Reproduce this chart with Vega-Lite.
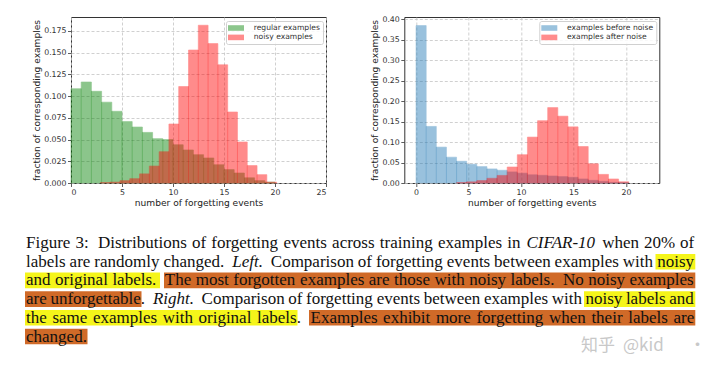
{
  "$schema": "https://vega.github.io/schema/vega-lite/v6.json",
  "background": "white",
  "padding": {"left": 24, "top": 14, "right": 5, "bottom": 5},
  "bounds": "flush",
  "spacing": 78.3,
  "resolve": {"scale": {"color": "independent", "stroke": "independent"}},
  "config": {
    "font": "DejaVu Sans",
    "view": {"stroke": "#333", "strokeWidth": 1},
    "axis": {
      "grid": true, "gridColor": "#c4c4c4", "gridDash": [3, 2], "gridWidth": 0.8,
      "domain": false, "tickColor": "#333", "tickSize": 3.5, "tickWidth": 0.8,
      "labelFont": "DejaVu Sans", "labelFontSize": 7.8, "labelColor": "#333", "labelPadding": 1.5,
      "titleFont": "DejaVu Sans", "titleFontSize": 9.1, "titleFontWeight": "normal", "titleColor": "#222"
    },
    "legend": {
      "orient": "top-right", "offset": 3.5,
      "labelFont": "DejaVu Sans", "labelFontSize": 7.6, "labelColor": "#333",
      "symbolType": "M-2,-0.7H2V0.7H-2Z", "symbolSize": 64, "symbolStrokeWidth": 0, "symbolOffset": 3,
      "fillColor": "rgba(255,255,255,0.85)", "strokeColor": "#d0d0d0", "cornerRadius": 2,
      "padding": 3, "rowPadding": 1.4, "labelOffset": 13.7
    }
  },
  "datasets": {
    "left": [
      {"series": "regular examples", "start": 0, "end": 1, "fraction": 0.1085},
      {"series": "regular examples", "start": 1, "end": 2, "fraction": 0.1162},
      {"series": "regular examples", "start": 2, "end": 3, "fraction": 0.1055},
      {"series": "regular examples", "start": 3, "end": 4, "fraction": 0.093},
      {"series": "regular examples", "start": 4, "end": 5, "fraction": 0.0825},
      {"series": "regular examples", "start": 5, "end": 6, "fraction": 0.0707},
      {"series": "regular examples", "start": 6, "end": 7, "fraction": 0.0644},
      {"series": "regular examples", "start": 7, "end": 8, "fraction": 0.0582},
      {"series": "regular examples", "start": 8, "end": 9, "fraction": 0.051},
      {"series": "regular examples", "start": 9, "end": 10, "fraction": 0.05},
      {"series": "regular examples", "start": 10, "end": 11, "fraction": 0.044},
      {"series": "regular examples", "start": 11, "end": 12, "fraction": 0.038},
      {"series": "regular examples", "start": 12, "end": 13, "fraction": 0.0326},
      {"series": "regular examples", "start": 13, "end": 14, "fraction": 0.0288},
      {"series": "regular examples", "start": 14, "end": 15, "fraction": 0.021},
      {"series": "regular examples", "start": 15, "end": 16, "fraction": 0.0154},
      {"series": "regular examples", "start": 16, "end": 17, "fraction": 0.0115},
      {"series": "regular examples", "start": 17, "end": 18, "fraction": 0.006},
      {"series": "regular examples", "start": 18, "end": 19, "fraction": 0.0027},
      {"series": "regular examples", "start": 19, "end": 20, "fraction": 0.001},
      {"series": "noisy examples", "start": 2.88, "end": 3.84, "fraction": 0.0005},
      {"series": "noisy examples", "start": 3.84, "end": 4.8, "fraction": 0.001},
      {"series": "noisy examples", "start": 4.8, "end": 5.76, "fraction": 0.0027},
      {"series": "noisy examples", "start": 5.76, "end": 6.72, "fraction": 0.005},
      {"series": "noisy examples", "start": 6.72, "end": 7.68, "fraction": 0.0105},
      {"series": "noisy examples", "start": 7.68, "end": 8.64, "fraction": 0.0195},
      {"series": "noisy examples", "start": 8.64, "end": 9.6, "fraction": 0.036},
      {"series": "noisy examples", "start": 9.6, "end": 10.56, "fraction": 0.0679},
      {"series": "noisy examples", "start": 10.56, "end": 11.52, "fraction": 0.111},
      {"series": "noisy examples", "start": 11.52, "end": 12.48, "fraction": 0.153},
      {"series": "noisy examples", "start": 12.48, "end": 13.44, "fraction": 0.1815},
      {"series": "noisy examples", "start": 13.44, "end": 14.4, "fraction": 0.1604},
      {"series": "noisy examples", "start": 14.4, "end": 15.36, "fraction": 0.136},
      {"series": "noisy examples", "start": 15.36, "end": 16.32, "fraction": 0.0817},
      {"series": "noisy examples", "start": 16.32, "end": 17.28, "fraction": 0.0472},
      {"series": "noisy examples", "start": 17.28, "end": 18.24, "fraction": 0.02},
      {"series": "noisy examples", "start": 18.24, "end": 19.2, "fraction": 0.0096},
      {"series": "noisy examples", "start": 19.2, "end": 20.16, "fraction": 0.001}
    ],
    "right": [
      {"series": "examples before noise", "start": 0, "end": 0.965, "fraction": 0.384},
      {"series": "examples before noise", "start": 0.965, "end": 1.93, "fraction": 0.138},
      {"series": "examples before noise", "start": 1.93, "end": 2.895, "fraction": 0.0875},
      {"series": "examples before noise", "start": 2.895, "end": 3.86, "fraction": 0.063},
      {"series": "examples before noise", "start": 3.86, "end": 4.825, "fraction": 0.053},
      {"series": "examples before noise", "start": 4.825, "end": 5.79, "fraction": 0.0457},
      {"series": "examples before noise", "start": 5.79, "end": 6.755, "fraction": 0.04},
      {"series": "examples before noise", "start": 6.755, "end": 7.72, "fraction": 0.0343},
      {"series": "examples before noise", "start": 7.72, "end": 8.685, "fraction": 0.031},
      {"series": "examples before noise", "start": 8.685, "end": 9.65, "fraction": 0.027},
      {"series": "examples before noise", "start": 9.65, "end": 10.615, "fraction": 0.024},
      {"series": "examples before noise", "start": 10.615, "end": 11.58, "fraction": 0.02},
      {"series": "examples before noise", "start": 11.58, "end": 12.545, "fraction": 0.0187},
      {"series": "examples before noise", "start": 12.545, "end": 13.51, "fraction": 0.017},
      {"series": "examples before noise", "start": 13.51, "end": 14.475, "fraction": 0.0155},
      {"series": "examples before noise", "start": 14.475, "end": 15.44, "fraction": 0.0138},
      {"series": "examples before noise", "start": 15.44, "end": 16.405, "fraction": 0.0098},
      {"series": "examples before noise", "start": 16.405, "end": 17.37, "fraction": 0.0065},
      {"series": "examples before noise", "start": 17.37, "end": 18.335, "fraction": 0.004},
      {"series": "examples before noise", "start": 18.335, "end": 19.3, "fraction": 0.0016},
      {"series": "examples before noise", "start": 19.3, "end": 20.265, "fraction": 0.0005},
      {"series": "examples after noise", "start": 3.86, "end": 4.825, "fraction": 0.001},
      {"series": "examples after noise", "start": 4.825, "end": 5.79, "fraction": 0.0028},
      {"series": "examples after noise", "start": 5.79, "end": 6.755, "fraction": 0.006},
      {"series": "examples after noise", "start": 6.755, "end": 7.72, "fraction": 0.0115},
      {"series": "examples after noise", "start": 7.72, "end": 8.685, "fraction": 0.0185},
      {"series": "examples after noise", "start": 8.685, "end": 9.65, "fraction": 0.039},
      {"series": "examples after noise", "start": 9.65, "end": 10.615, "fraction": 0.069},
      {"series": "examples after noise", "start": 10.615, "end": 11.58, "fraction": 0.112},
      {"series": "examples after noise", "start": 11.58, "end": 12.545, "fraction": 0.152},
      {"series": "examples after noise", "start": 12.545, "end": 13.51, "fraction": 0.184},
      {"series": "examples after noise", "start": 13.51, "end": 14.475, "fraction": 0.163},
      {"series": "examples after noise", "start": 14.475, "end": 15.44, "fraction": 0.137},
      {"series": "examples after noise", "start": 15.44, "end": 16.405, "fraction": 0.089},
      {"series": "examples after noise", "start": 16.405, "end": 17.37, "fraction": 0.047},
      {"series": "examples after noise", "start": 17.37, "end": 18.335, "fraction": 0.021},
      {"series": "examples after noise", "start": 18.335, "end": 19.3, "fraction": 0.0098},
      {"series": "examples after noise", "start": 19.3, "end": 20.265, "fraction": 0.003}
    ],
    "caption": [
      {"line": 1, "x": 25, "word": "Figure", "style": "normal"},
      {"line": 1, "x": 74.6, "word": "3:", "style": "normal"},
      {"line": 1, "x": 97, "word": "Distributions", "style": "normal"},
      {"line": 1, "x": 191, "word": "of", "style": "normal"},
      {"line": 1, "x": 210.3, "word": "forgetting", "style": "normal"},
      {"line": 1, "x": 282.5, "word": "events", "style": "normal"},
      {"line": 1, "x": 331.1, "word": "across", "style": "normal"},
      {"line": 1, "x": 378.8, "word": "training", "style": "normal"},
      {"line": 1, "x": 436.9, "word": "examples", "style": "normal"},
      {"line": 1, "x": 506.3, "word": "in", "style": "normal"},
      {"line": 1, "x": 525.5, "word": "CIFAR-10", "style": "italic"},
      {"line": 1, "x": 601.2, "word": "when", "style": "normal"},
      {"line": 1, "x": 643, "word": "20%", "style": "normal"},
      {"line": 1, "x": 679.1, "word": "of", "style": "normal"},
      {"line": 2, "x": 25, "word": "labels", "style": "normal"},
      {"line": 2, "x": 68.6, "word": "are", "style": "normal"},
      {"line": 2, "x": 93.3, "word": "randomly", "style": "normal"},
      {"line": 2, "x": 162.4, "word": "changed.", "style": "normal"},
      {"line": 2, "x": 231.2, "word": "Left.", "style": "italic"},
      {"line": 2, "x": 269.8, "word": "Comparison", "style": "normal"},
      {"line": 2, "x": 356.8, "word": "of", "style": "normal"},
      {"line": 2, "x": 374.9, "word": "forgetting", "style": "normal"},
      {"line": 2, "x": 445.8, "word": "events", "style": "normal"},
      {"line": 2, "x": 493.1, "word": "between", "style": "normal"},
      {"line": 2, "x": 553.6, "word": "examples", "style": "normal"},
      {"line": 2, "x": 621.7, "word": "with", "style": "normal"},
      {"line": 2, "x": 656.2, "word": "noisy", "style": "normal"},
      {"line": 3, "x": 25, "word": "and", "style": "normal"},
      {"line": 3, "x": 54, "word": "original", "style": "normal"},
      {"line": 3, "x": 111.4, "word": "labels.", "style": "normal"},
      {"line": 3, "x": 163.8, "word": "The", "style": "normal"},
      {"line": 3, "x": 194.7, "word": "most", "style": "normal"},
      {"line": 3, "x": 232.3, "word": "forgotten", "style": "normal"},
      {"line": 3, "x": 299.1, "word": "examples", "style": "normal"},
      {"line": 3, "x": 367.8, "word": "are", "style": "normal"},
      {"line": 3, "x": 393.1, "word": "those", "style": "normal"},
      {"line": 3, "x": 433.5, "word": "with", "style": "normal"},
      {"line": 3, "x": 468.2, "word": "noisy", "style": "normal"},
      {"line": 3, "x": 509.5, "word": "labels.", "style": "normal"},
      {"line": 3, "x": 561.9, "word": "No", "style": "normal"},
      {"line": 3, "x": 587.2, "word": "noisy", "style": "normal"},
      {"line": 3, "x": 628.5, "word": "examples", "style": "normal"},
      {"line": 4, "x": 25, "word": "are", "style": "normal"},
      {"line": 4, "x": 49.4, "word": "unforgettable.", "style": "normal"},
      {"line": 4, "x": 151.9, "word": "Right.", "style": "italic"},
      {"line": 4, "x": 200.6, "word": "Comparison", "style": "normal"},
      {"line": 4, "x": 287.3, "word": "of", "style": "normal"},
      {"line": 4, "x": 305.1, "word": "forgetting", "style": "normal"},
      {"line": 4, "x": 375.7, "word": "events", "style": "normal"},
      {"line": 4, "x": 422.7, "word": "between", "style": "normal"},
      {"line": 4, "x": 482.9, "word": "examples", "style": "normal"},
      {"line": 4, "x": 550.7, "word": "with", "style": "normal"},
      {"line": 4, "x": 584.5, "word": "noisy", "style": "normal"},
      {"line": 4, "x": 624.9, "word": "labels", "style": "normal"},
      {"line": 4, "x": 668.2, "word": "and", "style": "normal"},
      {"line": 5, "x": 25, "word": "the", "style": "normal"},
      {"line": 5, "x": 51.4, "word": "same", "style": "normal"},
      {"line": 5, "x": 91.9, "word": "examples", "style": "normal"},
      {"line": 5, "x": 161.7, "word": "with", "style": "normal"},
      {"line": 5, "x": 197.5, "word": "original", "style": "normal"},
      {"line": 5, "x": 256, "word": "labels.", "style": "normal"},
      {"line": 5, "x": 309.5, "word": "Examples", "style": "normal"},
      {"line": 5, "x": 382.1, "word": "exhibit", "style": "normal"},
      {"line": 5, "x": 434.9, "word": "more", "style": "normal"},
      {"line": 5, "x": 475.4, "word": "forgetting", "style": "normal"},
      {"line": 5, "x": 548, "word": "when", "style": "normal"},
      {"line": 5, "x": 590.4, "word": "their", "style": "normal"},
      {"line": 5, "x": 627.2, "word": "labels", "style": "normal"},
      {"line": 5, "x": 672.5, "word": "are", "style": "normal"},
      {"line": 6, "x": 25, "word": "changed.", "style": "normal"},
      {"line": 6, "x": 580, "word": "知乎", "style": "watermark"},
      {"line": 6, "x": 622, "word": "@kid", "style": "watermark"},
      {"line": 6, "x": 688, "word": "·", "style": "watermark"}
    ],
    "highlights": [
      {"line": 2, "x1": 654.5, "x2": 694.3, "kind": "yellow"},
      {"line": 3, "x1": 24, "x2": 159, "kind": "yellow"},
      {"line": 3, "x1": 163, "x2": 694.3, "kind": "orange"},
      {"line": 4, "x1": 24, "x2": 140.5, "kind": "orange"},
      {"line": 4, "x1": 583, "x2": 694.3, "kind": "yellow"},
      {"line": 5, "x1": 24, "x2": 296.5, "kind": "yellow"},
      {"line": 5, "x1": 308, "x2": 694.3, "kind": "orange"},
      {"line": 6, "x1": 24, "x2": 86.5, "kind": "orange"}
    ]
  },
  "hconcat": [
    {
      "width": 255, "height": 166,
      "resolve": {"scale": {"x": "independent", "y": "independent", "color": "independent", "stroke": "independent"}, "axis": {"x": "independent", "y": "independent"}},
      "layer": [
        {
          "data": {"name": "left"},
          "mark": {"type": "rect", "opacity": 0.45, "strokeWidth": 0.6},
          "encoding": {
            "x": {"field": "start", "type": "quantitative", "scale": {"domain": [0, 25], "nice": false, "zero": false},
                  "axis": {"values": [0, 5, 10, 15, 20, 25], "title": "number of forgetting events", "titlePadding": 3}},
            "x2": {"field": "end"},
            "y": {"field": "fraction", "type": "quantitative", "scale": {"domain": [0, 0.191], "nice": false},
                  "axis": {"values": [0, 0.025, 0.05, 0.075, 0.1, 0.125, 0.15, 0.175], "format": ".3f", "title": "fraction of corresponding examples", "titlePadding": 2}},
            "y2": {"datum": 0},
            "color": {"field": "series", "type": "nominal", "scale": {"domain": ["regular examples", "noisy examples"], "range": ["#008000", "#ff0000"]}, "legend": {"title": null}},
            "stroke": {"field": "series", "type": "nominal", "scale": {"domain": ["regular examples", "noisy examples"], "range": ["#008000", "#ff0000"]}, "legend": null}
          }
        },
        {
          "layer": [
            {
              "data": {"name": "highlights"},
              "mark": {"type": "bar", "orient": "horizontal", "size": 15.6},
              "encoding": {
                "x": {"field": "x1", "type": "quantitative", "scale": {"domain": [70, 325], "nice": false, "zero": false}, "axis": null},
                "x2": {"field": "x2"},
                "y": {"field": "line", "type": "quantitative", "scale": {"domain": [-11.086, -2.209], "nice": false, "zero": false, "reverse": true, "padding": 0}, "axis": null},
                "color": {"field": "kind", "type": "nominal", "scale": {"domain": ["yellow", "orange"], "range": ["#f5f51a", "#d06a28"]}, "legend": null}
              }
            },
            {
              "data": {"name": "caption"},
              "transform": [{"filter": "datum.style === 'normal'"}],
              "mark": {"type": "text", "align": "left", "baseline": "middle", "font": "Liberation Serif", "fontSize": 17, "color": "#111"},
              "encoding": {
                "x": {"field": "x", "type": "quantitative"},
                "y": {"field": "line", "type": "quantitative"},
                "text": {"field": "word"}
              }
            },
            {
              "data": {"name": "caption"},
              "transform": [{"filter": "datum.style === 'italic'"}],
              "mark": {"type": "text", "align": "left", "baseline": "middle", "font": "Liberation Serif", "fontStyle": "italic", "fontSize": 17, "color": "#111"},
              "encoding": {
                "x": {"field": "x", "type": "quantitative"},
                "y": {"field": "line", "type": "quantitative"},
                "text": {"field": "word"}
              }
            },
            {
              "data": {"name": "caption"},
              "transform": [{"filter": "datum.style === 'watermark'"}],
              "mark": {"type": "text", "align": "left", "baseline": "middle", "dy": 9, "font": "Noto Sans CJK SC", "fontSize": 17, "color": "#c8c8c8"},
              "encoding": {
                "x": {"field": "x", "type": "quantitative"},
                "y": {"field": "line", "type": "quantitative"},
                "text": {"field": "word"}
              }
            }
          ]
        }
      ]
    },
    {
      "width": 255, "height": 166,
      "data": {"name": "right"},
      "mark": {"type": "rect", "opacity": 0.45, "strokeWidth": 0.6},
      "encoding": {
        "x": {"field": "start", "type": "quantitative", "scale": {"domain": [-1.12, 23.18], "nice": false, "zero": false},
              "axis": {"values": [0, 5, 10, 15, 20], "title": "number of forgetting events", "titlePadding": 3}},
        "x2": {"field": "end"},
        "y": {"field": "fraction", "type": "quantitative", "scale": {"domain": [0, 0.405], "nice": false},
              "axis": {"values": [0, 0.05, 0.1, 0.15, 0.2, 0.25, 0.3, 0.35, 0.4], "format": ".2f", "title": "fraction of corresponding examples", "titlePadding": 2}},
        "y2": {"datum": 0},
        "color": {"field": "series", "type": "nominal", "scale": {"domain": ["examples before noise", "examples after noise"], "range": ["#1f77b4", "#ff0000"]}, "legend": {"title": null}},
        "stroke": {"field": "series", "type": "nominal", "scale": {"domain": ["examples before noise", "examples after noise"], "range": ["#1f77b4", "#ff0000"]}, "legend": null}
      }
    }
  ]
}
